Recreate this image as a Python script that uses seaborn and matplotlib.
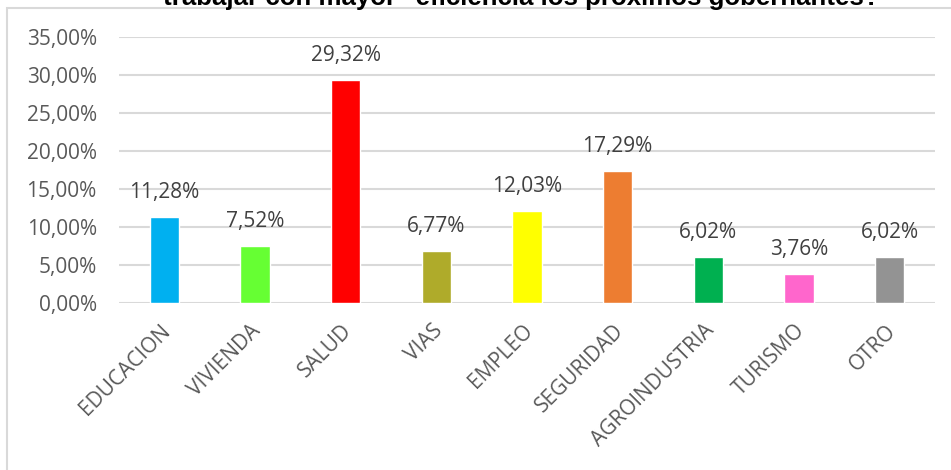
import matplotlib
matplotlib.use("Agg")
import matplotlib.pyplot as plt
import matplotlib.patches as mpatches
from matplotlib.ticker import FuncFormatter, MultipleLocator
from matplotlib.transforms import ScaledTranslation
import pandas as pd
import seaborn as sns

categories = ["EDUCACION", "VIVIENDA", "SALUD", "VIAS", "EMPLEO",
              "SEGURIDAD", "AGROINDUSTRIA", "TURISMO", "OTRO"]
values = [11.28, 7.52, 29.32, 6.77, 12.03, 17.29, 6.02, 3.76, 6.02]
colors = ["#00B0F0", "#66FF33", "#FF0000", "#AFAB2A", "#FFFF00",
          "#ED7D31", "#00B050", "#FF66CC", "#939393"]
title = 'trabajar con mayor "eficiencia los próximos gobernantes?'


def pct(v, pos=None):
    return f"{v:.2f}%".replace(".", ",")


sns.set_theme(style="white")
plt.rcParams["font.family"] = ["Open Sans", "DejaVu Sans"]

df = pd.DataFrame({"cat": categories, "val": values})

fig = plt.figure(figsize=(9.51, 4.70), dpi=100)
ax = fig.add_axes([119 / 951, 167.3 / 470, 816 / 951, 266 / 470])

sns.barplot(data=df, x="cat", y="val", hue="cat", palette=colors,
            width=0.32, legend=False, saturation=1, ax=ax)

ax.set_ylim(0, 35)
ax.yaxis.set_major_locator(MultipleLocator(5))
ax.yaxis.set_major_formatter(FuncFormatter(pct))
ax.grid(axis="y", color="#D9D9D9", linewidth=1.5)
ax.set_axisbelow(True)
for side in ["left", "right", "top", "bottom"]:
    ax.spines[side].set_visible(False)
ax.set_xlabel("")
ax.set_ylabel("")
ax.tick_params(axis="y", length=0, pad=16, labelsize=15, labelcolor="#595959")
ax.tick_params(axis="x", length=0, pad=18, labelsize=15, labelcolor="#595959")
ax.set_xticks(range(len(categories)))
ax.set_xticklabels(categories, rotation=45, ha="right", va="center",
                   rotation_mode="anchor")
for lbl in ax.get_xticklabels():
    lbl.set_transform(lbl.get_transform() + ScaledTranslation(2 / 72, 0, fig.dpi_scale_trans))

for i, v in enumerate(values):
    ax.annotate(pct(v), (i, v), xytext=(0, 10), textcoords="offset points",
                ha="center", va="bottom", fontsize=15, color="#404040")

# chart area frame (cut off right and bottom)
fig.patches.append(mpatches.Rectangle((7 / 951, -0.1), 1.1, 1 - 8 / 470 + 0.1,
                                      transform=fig.transFigure, fill=False,
                                      edgecolor="#D9D9D9", linewidth=1.5))

fig.text(521 / 951, 1 - 5.5 / 470, title, ha="center", va="baseline",
         fontsize=18.6, fontweight="bold", family=["Liberation Sans", "DejaVu Sans"],
         color="black")

fig.savefig("out.png", dpi=100)
